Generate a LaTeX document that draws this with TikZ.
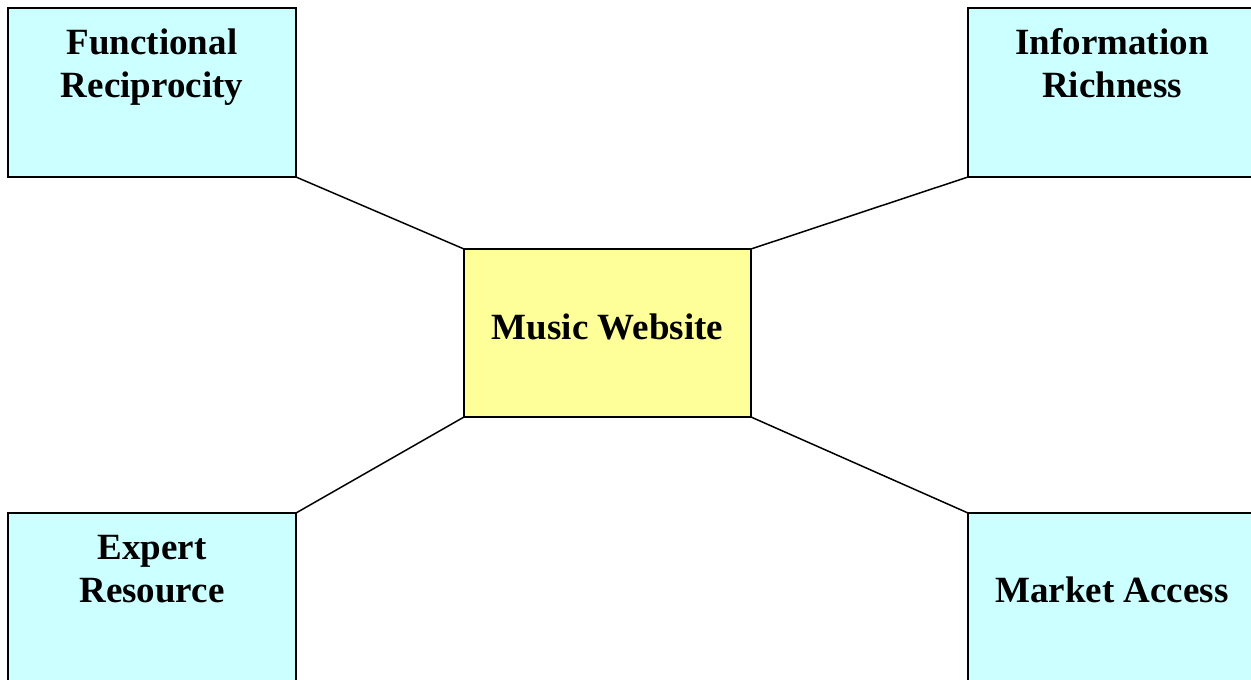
\documentclass[tikz,border=0pt]{standalone}
\usepackage{fontspec}
\setmainfont{Liberation Serif}
\definecolor{boxcyan}{HTML}{CCFFFF}
\definecolor{boxyellow}{HTML}{FFFF99}
\begin{document}
\begin{tikzpicture}[x=1pt,y=-1pt,
  outerbox/.style={draw=black,line width=1.7pt,fill=boxcyan},
  centerbox/.style={draw=black,line width=1.7pt,fill=boxyellow},
  lbl/.style={anchor=base,inner sep=0pt,font=\bfseries\fontsize{37}{43}\selectfont},
  link/.style={draw=black,line width=1.5pt}]
\useasboundingbox (0,0) rectangle (1251,680);
\clip (0,0) rectangle (1251,680);
\fill[white] (0,0) rectangle (1251,680);
% boxes
\draw[outerbox] (8,8) rectangle (296,177);
\draw[outerbox] (968,8) rectangle (1258,177);
\draw[outerbox] (8,513) rectangle (296,690);
\draw[outerbox] (968,513) rectangle (1258,690);
\draw[centerbox] (464,249) rectangle (751,417);
% corner coordinates
\coordinate (tl) at (296,177);
\coordinate (tr) at (968,177);
\coordinate (bl) at (296,513);
\coordinate (br) at (968,513);
\coordinate (ctl) at (464,249);
\coordinate (ctr) at (751,249);
\coordinate (cbl) at (464,417);
\coordinate (cbr) at (751,417);
\draw[link] (tl) -- (ctl);
\draw[link] (tr) -- (ctr);
\draw[link] (bl) -- (cbl);
\draw[link] (br) -- (cbr);
% labels
\node[lbl] (f1) at (152,54) {Functional};
\node[lbl] (f2) at (152,97) {Reciprocity};
\node[lbl] (i1) at (1112,54) {Information};
\node[lbl] (i2) at (1112,97) {Richness};
\node[lbl] (e1) at (152,559) {Expert};
\node[lbl] (e2) at (152,602) {Resource};
\node[lbl] (m1) at (1112,602) {Market Access};
\node[lbl] (c1) at (607.5,339) {Music Website};
\end{tikzpicture}
\end{document}
